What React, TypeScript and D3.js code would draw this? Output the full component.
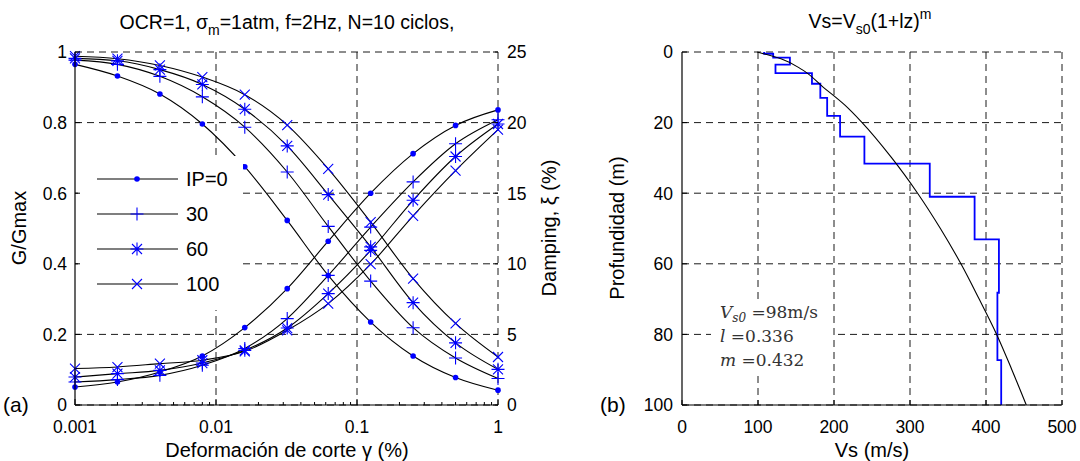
import React from "react";
import { scaleLog, scaleLinear, line, curveMonotoneX, curveMonotoneY } from "d3";

const width = 1080;
const height = 461;

// shear strain (%) where the markers sit
const gammas = [0.001, 0.002, 0.004, 0.008, 0.016, 0.032, 0.0625, 0.125, 0.25, 0.5, 1];
const ipLabels = ["IP=0", "30", "60", "100"];
const markerKinds = ["dot", "plus", "star", "cross"];

// G/Gmax
const gIP0 = [0.965, 0.932, 0.881, 0.796, 0.675, 0.523, 0.367, 0.235, 0.139, 0.078, 0.042];
const gIP30 = [0.977, 0.965, 0.931, 0.873, 0.787, 0.66, 0.506, 0.351, 0.219, 0.133, 0.075];
const gIP60 = [0.982, 0.975, 0.95, 0.908, 0.838, 0.734, 0.596, 0.448, 0.29, 0.176, 0.101];
const gIP100 = [0.988, 0.981, 0.962, 0.929, 0.879, 0.793, 0.669, 0.518, 0.358, 0.231, 0.136];

// damping (%)
const dIP0 = [1.27, 1.63, 2.34, 3.47, 5.48, 8.24, 11.6, 15.0, 17.8, 19.8, 20.9];
const dIP30 = [1.63, 1.8, 2.1, 2.81, 4.0, 6.12, 9.18, 12.6, 15.8, 18.5, 20.2];
const dIP60 = [1.98, 2.22, 2.45, 2.97, 3.87, 5.45, 7.89, 10.95, 14.5, 17.6, 19.9];
const dIP100 = [2.58, 2.69, 2.93, 3.17, 3.8, 5.29, 7.18, 9.97, 13.4, 16.6, 19.5];

const gSeries = [gIP0, gIP30, gIP60, gIP100];
const dSeries = [dIP0, dIP30, dIP60, dIP100];

const gTicks = [0, 0.2, 0.4, 0.6, 0.8, 1];
const gTickLabels = ["0", "0.2", "0.4", "0.6", "0.8", "1"];
const dTicks = [0, 5, 10, 15, 20, 25];
const strainTicks = [0.001, 0.01, 0.1, 1];
const strainTickLabels = ["0.001", "0.01", "0.1", "1"];

// Vs profile (layer boundaries and velocities)
const layerTop = [0, 0.5, 1.6, 3.6, 6.0, 9.0, 13.0, 18.1, 24.0, 31.6, 41.0, 53.1, 68.2, 87.3];
const layerBottom = [0.5, 1.6, 3.6, 6.0, 9.0, 13.0, 18.1, 24.0, 31.6, 41.0, 53.1, 68.2, 87.3, 100];
const layerVs = [108, 120, 142, 123, 171, 182, 191, 208, 240, 326, 385, 417, 415, 420];

// fitted curve
const fitDepth = [0, 2, 5, 10, 15, 20, 30, 40, 50, 60, 70, 80, 90, 100];
const fitVs = [99, 131, 158, 186, 214, 237, 276, 310, 340, 367, 391, 414, 434, 453];

const vsTicks = [0, 100, 200, 300, 400, 500];
const depthTicks = [0, 20, 40, 60, 80, 100];

const font = "Liberation Sans, Arial, sans-serif";
const blue = "#0000ff";
const dash = "7,5";
const tickSize = 17.5;
const labelSize = 20;

const Marker = ({ kind, x, y }) => {
  const s = 6.5;
  const c = 5;
  const st = { stroke: blue, strokeWidth: 1.1, fill: "none" };
  if (kind === "dot") return <circle cx={x} cy={y} r={2.8} fill={blue} />;
  const plus = `M${x - s},${y}H${x + s}M${x},${y - s}V${y + s}`;
  const cross = `M${x - c},${y - c}L${x + c},${y + c}M${x - c},${y + c}L${x + c},${y - c}`;
  if (kind === "plus") return <path d={plus} {...st} />;
  if (kind === "cross") return <path d={cross} {...st} />;
  return <path d={plus + cross} {...st} />;
};

const LeftChart = () => {
  const x = scaleLog().domain([0.001, 1]).range([75, 498]);
  const yG = scaleLinear().domain([0, 1]).range([405, 52]);
  const yD = scaleLinear().domain([0, 25]).range([405, 52]);
  const gLine = line<number>()
    .x((_, i) => x(gammas[i]))
    .y((d) => yG(d))
    .curve(curveMonotoneX);
  const dLine = line<number>()
    .x((_, i) => x(gammas[i]))
    .y((d) => yD(d))
    .curve(curveMonotoneX);

  const minor: number[] = [];
  [0.001, 0.01, 0.1].forEach((b) => {
    for (let k = 2; k <= 9; k++) minor.push(b * k);
  });

  const legendY = [179, 214, 249, 284];

  return (
    <g fontFamily={font}>
      {/* grid */}
      {gTicks.map((t) => (
        <line key={"h" + t} x1={75} x2={498} y1={yG(t)} y2={yG(t)} stroke="#000" strokeDasharray={dash} strokeWidth={0.9} />
      ))}
      {strainTicks.slice(1).map((t) => (
        <line key={"v" + t} x1={x(t)} x2={x(t)} y1={52} y2={405} stroke="#000" strokeDasharray={dash} strokeWidth={0.9} />
      ))}
      {/* curves */}
      {gSeries.map((s, i) => (
        <path key={"g" + i} d={gLine(s)} fill="none" stroke="#000" strokeWidth={1.1} />
      ))}
      {dSeries.map((s, i) => (
        <path key={"d" + i} d={dLine(s)} fill="none" stroke="#000" strokeWidth={1.1} />
      ))}
      {gSeries.map((s, i) =>
        s.map((v, j) => <Marker key={`gm${i}-${j}`} kind={markerKinds[i]} x={x(gammas[j])} y={yG(v)} />)
      )}
      {dSeries.map((s, i) =>
        s.map((v, j) => <Marker key={`dm${i}-${j}`} kind={markerKinds[i]} x={x(gammas[j])} y={yD(v)} />)
      )}
      {/* legend */}
      <rect x={78} y={156} width={165} height={154} fill="#fff" />
      {ipLabels.map((lab, i) => (
        <g key={lab}>
          <line x1={97} x2={178} y1={legendY[i]} y2={legendY[i]} stroke="#000" strokeWidth={1.1} />
          <Marker kind={markerKinds[i]} x={137} y={legendY[i]} />
          <text x={186} y={legendY[i]} dy="0.36em" fontSize={labelSize}>
            {lab}
          </text>
        </g>
      ))}
      {/* axes */}
      <line x1={75} x2={75} y1={52} y2={405} stroke="#000" strokeWidth={1.2} />
      <line x1={75} x2={498} y1={405} y2={405} stroke="#000" strokeWidth={1.2} />
      {gTicks.map((t, i) => (
        <g key={"gt" + t}>
          <line x1={75} x2={80} y1={yG(t)} y2={yG(t)} stroke="#000" />
          <text x={67} y={yG(t)} dy="0.36em" textAnchor="end" fontSize={tickSize}>
            {gTickLabels[i]}
          </text>
        </g>
      ))}
      {dTicks.map((t) => (
        <g key={"dt" + t}>
          <line x1={493} x2={498} y1={yD(t)} y2={yD(t)} stroke="#000" />
          <text x={507} y={yD(t)} dy="0.36em" fontSize={tickSize}>
            {t}
          </text>
        </g>
      ))}
      {strainTicks.map((t, i) => (
        <g key={"st" + t}>
          <line x1={x(t)} x2={x(t)} y1={405} y2={399} stroke="#000" />
          <text x={x(t)} y={433} textAnchor="middle" fontSize={tickSize}>
            {strainTickLabels[i]}
          </text>
        </g>
      ))}
      {minor.map((t) => (
        <line key={"mn" + t} x1={x(t)} x2={x(t)} y1={405} y2={402} stroke="#000" />
      ))}
      {/* labels */}
      <text x={287} y={457} textAnchor="middle" fontSize={labelSize}>
        Deformación de corte γ (%)
      </text>
      <text transform="translate(26,228) rotate(-90)" textAnchor="middle" fontSize={labelSize}>
        G/Gmax
      </text>
      <text transform="translate(556,228) rotate(-90)" textAnchor="middle" fontSize={labelSize}>
        Damping, ξ (%)
      </text>
      <text x={3} y={412} fontSize={21}>
        (a)
      </text>
      <text x={287} y={29} textAnchor="middle" fontSize={19.5}>
        OCR=1, σ<tspan dy={6} fontSize={14}>m</tspan>
        <tspan dy={-6}>=1atm, f=2Hz, N=10 ciclos,</tspan>
      </text>
    </g>
  );
};

const RightChart = () => {
  const x = scaleLinear().domain([0, 500]).range([682, 1062]);
  const y = scaleLinear().domain([0, 100]).range([52, 405]);

  let steps = "";
  layerVs.forEach((v, i) => {
    steps += `${i === 0 ? "M" : "L"}${x(v)},${y(layerTop[i])}L${x(v)},${y(layerBottom[i])}`;
  });

  const fit = line<number>()
    .x((d) => x(d))
    .y((_, i) => y(fitDepth[i]))
    .curve(curveMonotoneY);

  return (
    <g fontFamily={font}>
      {depthTicks.map((t) => (
        <line key={"h" + t} x1={682} x2={1062} y1={y(t)} y2={y(t)} stroke="#000" strokeDasharray={dash} strokeWidth={0.9} />
      ))}
      {vsTicks.slice(1).map((t) => (
        <line key={"v" + t} x1={x(t)} x2={x(t)} y1={52} y2={405} stroke="#000" strokeDasharray={dash} strokeWidth={0.9} />
      ))}
      <path d={steps} fill="none" stroke={blue} strokeWidth={1.8} />
      <path d={fit(fitVs)} fill="none" stroke="#000" strokeWidth={1.1} />
      <line x1={682} x2={682} y1={52} y2={405} stroke="#000" strokeWidth={1.2} />
      <line x1={682} x2={1062} y1={405} y2={405} stroke="#000" strokeWidth={1.2} />
      {depthTicks.map((t) => (
        <g key={"yt" + t}>
          <line x1={682} x2={687} y1={y(t)} y2={y(t)} stroke="#000" />
          <text x={673} y={y(t)} dy="0.36em" textAnchor="end" fontSize={tickSize}>
            {t}
          </text>
        </g>
      ))}
      {vsTicks.map((t) => (
        <g key={"xt" + t}>
          <line x1={x(t)} x2={x(t)} y1={405} y2={400} stroke="#000" />
          <text x={x(t)} y={433} textAnchor="middle" fontSize={tickSize}>
            {t}
          </text>
        </g>
      ))}
      <text x={872} y={457} textAnchor="middle" fontSize={labelSize}>
        Vs (m/s)
      </text>
      <text transform="translate(624,228) rotate(-90)" textAnchor="middle" fontSize={labelSize}>
        Profundidad (m)
      </text>
      <text x={600} y={412} fontSize={21}>
        (b)
      </text>
      <text x={870} y={28} textAnchor="middle" fontSize={19.5}>
        Vs=V<tspan dy={6} fontSize={14}>s0</tspan>
        <tspan dy={-6}>(1+lz)</tspan>
        <tspan dy={-9} fontSize={14}>m</tspan>
      </text>
      {/* annotation with white background */}
      <rect x={711} y={300} width={122} height={72} fill="#fff" />
      <g fontFamily="DejaVu Serif, Liberation Serif, serif" fontSize={17} fill="#333">
        <text x={720} y={318}>
          <tspan fontStyle="italic">V</tspan>
          <tspan dy={4} fontSize={12} fontStyle="italic">s0</tspan>
          <tspan dy={-4}> =98m/s</tspan>
        </text>
        <text x={720} y={342}>
          <tspan fontStyle="italic">l</tspan> =0.336
        </text>
        <text x={720} y={366}>
          <tspan fontStyle="italic">m</tspan> =0.432
        </text>
      </g>
    </g>
  );
};

export default function App() {
  return (
    <svg width={width} height={height} style={{ display: "block", position: "absolute", left: 0, top: 0, background: "#fff" }}>
      <rect width={width} height={height} fill="#fff" />
      <LeftChart />
      <RightChart />
    </svg>
  );
}
